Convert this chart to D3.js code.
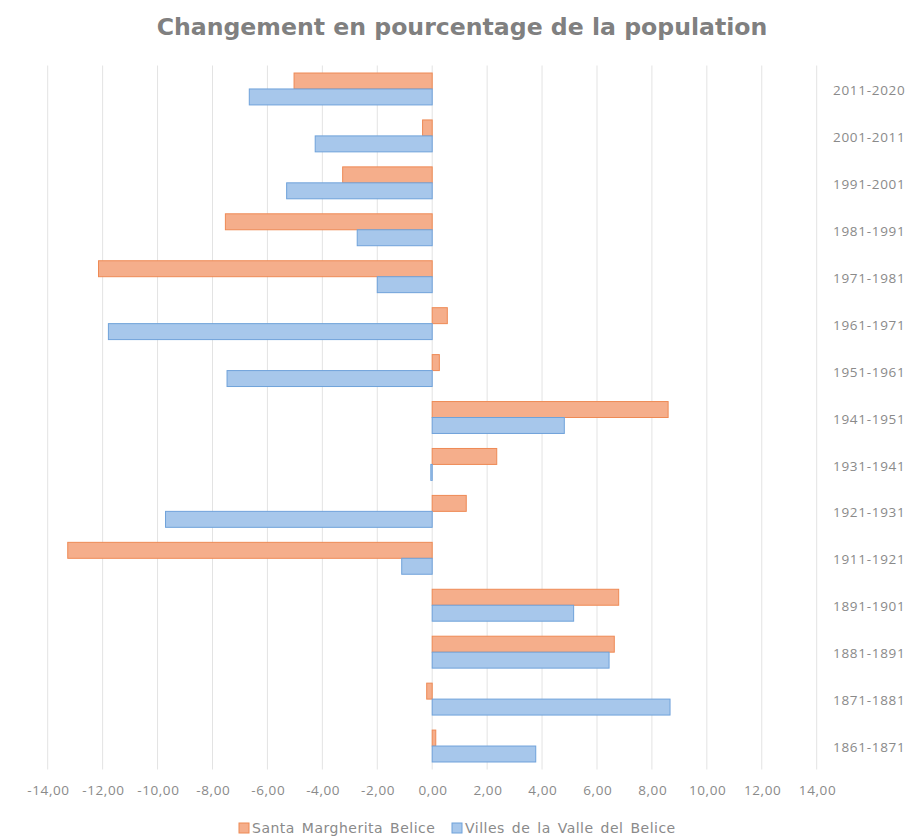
<!DOCTYPE html>
<html>
<head>
<meta charset="utf-8">
<script src="https://cdn.jsdelivr.net/npm/d3@7"></script>
<style>
  body { margin: 0; background: #fff; }
  svg { display: block; }
</style>
</head>
<body>
<svg id="chart" width="913" height="837"></svg>
<script>
const categories = ["2011-2020","2001-2011","1991-2001","1981-1991","1971-1981","1961-1971","1951-1961","1941-1951","1931-1941","1921-1931","1911-1921","1891-1901","1881-1891","1871-1881","1861-1871"];
const santaMargherita = [-5.03,-0.35,-3.26,-7.53,-12.15,0.55,0.26,8.59,2.35,1.24,-13.27,6.79,6.63,-0.2,0.13];
const villesValle = [-6.66,-4.26,-5.30,-2.73,-2.0,-11.79,-7.47,4.81,-0.05,-9.71,-1.11,5.15,6.44,8.66,3.77];
const seriesNames = ["Santa Margherita Belice","Villes de la Valle del Belice"];
const xTicks = [-14,-12,-10,-8,-6,-4,-2,0,2,4,6,8,10,12,14];
const title = "Changement en pourcentage de la population";

const fills = ["#F5AE8B","#A7C7EB"];
const strokes = ["#EE8A55","#6FA2DA"];

const svg = d3.select("#chart");
const plotLeft = 47.7, plotRight = 816.7, plotTop = 65.5, plotBottom = 769.5;

const x = d3.scaleLinear().domain([-14,14]).range([plotLeft,plotRight]);
const y = d3.scaleBand().domain(categories).range([plotTop,plotBottom]).paddingInner(0.32).paddingOuter(0.16);
const ySub = d3.scaleBand().domain([0,1]).range([0,y.bandwidth()]);

// title
svg.append("text")
  .attr("x", 462).attr("y", 35)
  .attr("text-anchor","middle")
  .attr("font-family","'DejaVu Sans', sans-serif")
  .attr("font-weight","bold")
  .attr("font-size", 23.6)
  .attr("fill","#808080")
  .text(title);

// gridlines
svg.append("g")
  .selectAll("line")
  .data(xTicks)
  .join("line")
  .attr("x1", d => x(d)).attr("x2", d => x(d))
  .attr("y1", plotTop).attr("y2", plotBottom)
  .attr("stroke","#e3e3e3")
  .attr("stroke-width",1);

// x axis labels
const xAxis = d3.axisBottom(x).tickValues(xTicks)
  .tickFormat(d => d3.format(".2f")(d).replace(".", ",").replace("−","-"))
  .tickSize(0).tickPadding(0);
const gx = svg.append("g").attr("transform",`translate(0,${plotBottom+16})`).call(xAxis);
gx.select(".domain").remove();
gx.selectAll("text")
  .attr("font-family","'Open Sans', sans-serif")
  .attr("font-size", 13.5)
  .attr("letter-spacing", 0.6)
  .attr("dx", 0.3)
  .attr("fill","#8a8a8a");

// y axis labels (right side)
const yAxis = d3.axisRight(y).tickSize(0).tickPadding(0);
const gy = svg.append("g").attr("transform",`translate(833,0)`).call(yAxis);
gy.select(".domain").remove();
gy.selectAll("text")
  .attr("font-family","'Open Sans', sans-serif")
  .attr("font-size", 13.5)
  .attr("letter-spacing", 0.7)
  .attr("fill","#8a8a8a")
  .attr("dy","0.45em");

// bars
const series = [santaMargherita, villesValle];
series.forEach((vals, si) => {
  svg.append("g")
    .selectAll("rect")
    .data(vals.map((v,i) => ({cat: categories[i], v})))
    .join("rect")
    .attr("x", d => x(Math.min(0,d.v)))
    .attr("width", d => Math.max(0.8, Math.abs(x(d.v) - x(0))))
    .attr("y", d => y(d.cat) + ySub(si))
    .attr("height", ySub.bandwidth())
    .attr("fill", fills[si])
    .attr("stroke", strokes[si])
    .attr("stroke-width", 1);
});

// legend
const legend = svg.append("g").attr("transform","translate(239,828)");
const legX = [0, 213];
seriesNames.forEach((n, i) => {
  const g = legend.append("g").attr("transform",`translate(${legX[i]},0)`);
  g.append("rect").attr("x",0).attr("y",-5).attr("width",10).attr("height",10)
    .attr("fill", fills[i]).attr("stroke", strokes[i]);
  g.append("text").attr("x",13).attr("y",0).attr("dy","0.35em")
    .attr("font-family","'DejaVu Sans', sans-serif")
    .attr("font-size", 14)
    .attr("letter-spacing", 0.5)
    .attr("word-spacing", 2)
    .attr("fill","#8a8a8a")
    .text(n);
});
</script>
</body>
</html>
